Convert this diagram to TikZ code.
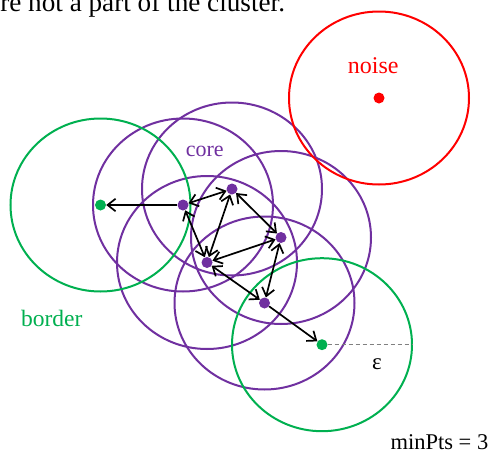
\documentclass[tikz,border=0pt]{standalone}
\usepackage{fontspec}
\setmainfont{Liberation Serif}
\usetikzlibrary{arrows.meta}
\definecolor{cpurple}{RGB}{112,48,160}
\definecolor{cgreen}{RGB}{0,176,80}
\definecolor{cred}{RGB}{255,0,0}
\begin{document}
\begin{tikzpicture}[x=1pt,y=-1pt,
  nbhd/.style={line width=2pt},
  ptdot/.style={circle, inner sep=0pt, minimum size=11pt, fill=#1},
  link/.style={line width=1.7pt, black},
  barb/.tip={Straight Barb[length=8pt,width=12.5pt,line width=1.7pt]},
  lbl/.style={inner sep=0pt, anchor=base}
]
\clip (0,0) rectangle (493,453);
\fill[white] (0,0) rectangle (493,453);

% cut-off caption line at top
\node[inner sep=0pt, anchor=base west, font=\fontsize{27.2pt}{30pt}\selectfont] (caption) at (-12,11.5) {are not a part of the cluster.};

% points
\coordinate (g1) at (100.5,205);
\coordinate (a) at (183,205);
\coordinate (b) at (232,189);
\coordinate (c) at (281,237.5);
\coordinate (d) at (207,262.5);
\coordinate (e) at (264.5,303);
\coordinate (f) at (322,344.7);
\coordinate (n) at (379,98);

% neighbourhoods
\foreach \p in {a,b,c,d,e}
  \draw[nbhd, cpurple] (\p) ellipse [x radius=90pt, y radius=86.5pt];
\draw[nbhd, cgreen] (g1) ellipse [x radius=90pt, y radius=86.5pt];
\draw[nbhd, cgreen] (f) ellipse [x radius=90pt, y radius=86.5pt];
\draw[nbhd, cred] (n) ellipse [x radius=90pt, y radius=86.5pt];

% dots
\node[ptdot=cgreen] (G1) at (g1) {};
\node[ptdot=cpurple] (A) at (a) {};
\node[ptdot=cpurple] (B) at (b) {};
\node[ptdot=cpurple] (C) at (c) {};
\node[ptdot=cpurple] (D) at (d) {};
\node[ptdot=cpurple] (E) at (e) {};
\node[ptdot=cgreen] (F) at (f) {};
\node[ptdot=cred] (N) at (n) {};

% epsilon radius
\coordinate (epsend) at (412,344.7);
\draw[gray, line width=0.9pt, dash pattern=on 4pt off 3pt] (F) -- (epsend);

% connections
\draw[link, -{barb}] (A) -- (G1);
\draw[link, {barb}-{barb}] (A) -- (B);
\draw[link, {barb}-{barb}] (A) -- (D);
\draw[link, {barb}-{barb}] (B) -- (D);
\draw[link, {barb}-{barb}] (B) -- (C);
\draw[link, {barb}-{barb}] (C) -- (D);
\draw[link, {barb}-{barb}] (C) -- (E);
\draw[link, {barb}-{barb}] (D) -- (E);
\draw[link, -{barb}] (E) -- (F);

% labels
\node[lbl, text=cred, font=\fontsize{24pt}{28pt}\selectfont] (noiselbl) at (373.3,73.5) {noise};
\node[lbl, text=cpurple, font=\fontsize{22pt}{26pt}\selectfont] (corelbl) at (204.7,156) {core};
\node[lbl, text=cgreen, font=\fontsize{23.5pt}{27pt}\selectfont] (borderlbl) at (51.8,326.7) {border};
\node[lbl, font=\fontsize{23pt}{27pt}\selectfont] (epslbl) at (377,369) {ε};
\node[lbl, anchor=base east, font=\fontsize{22.5pt}{27pt}\selectfont] (minpts) at (488.5,449) {minPts = 3};
\end{tikzpicture}
\end{document}
